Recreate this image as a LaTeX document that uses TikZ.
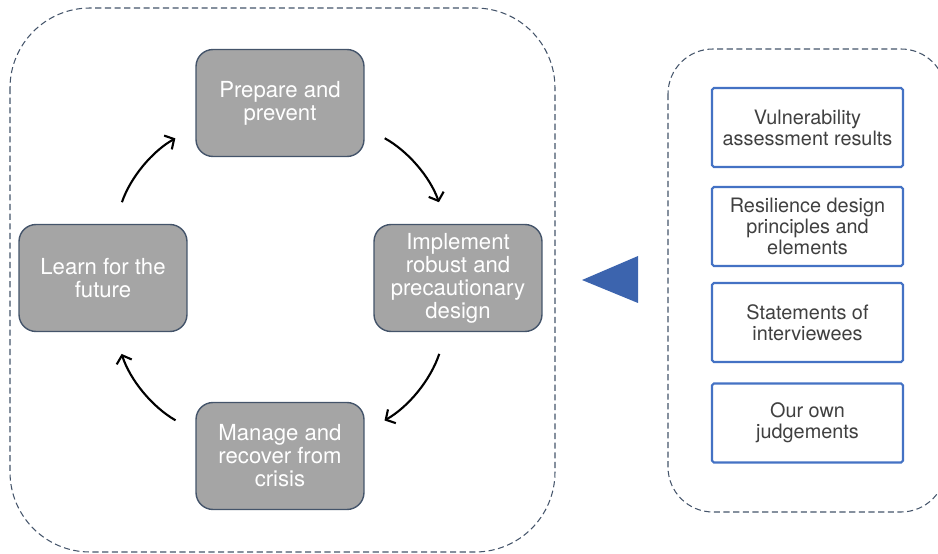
\documentclass[tikz,border=0pt]{standalone}
\usepackage{fontspec}
\setmainfont{TeX Gyre Heros}
\definecolor{slateedge}{HTML}{44546A}
\definecolor{phasegray}{HTML}{A5A5A5}
\definecolor{sourceblue}{HTML}{4472C4}
\definecolor{arrowblue}{HTML}{3C64AE}
\definecolor{darktext}{HTML}{404040}
\usetikzlibrary{arrows.meta}

\begin{document}
\begin{tikzpicture}[x=0.02cm,y=-0.02cm,
  phase/.style={draw=slateedge,line width=0.8pt,fill=phasegray,rounded corners=0.34cm,
    minimum width=3.36cm,minimum height=2.14cm,inner sep=0pt,align=center,
    text=white,font=\fontsize{12.6}{13.1}\selectfont},
  source/.style={draw=sourceblue,line width=1.2pt,fill=white,rounded corners=1pt,
    minimum width=3.82cm,minimum height=1.58cm,inner sep=0pt,align=center,
    text=darktext,font=\fontsize{11.3}{12}\selectfont},
  turn/.style={line width=1.2pt,-{Straight Barb[length=4pt,width=9pt]},
    shorten <=13pt,shorten >=13pt,bend left=21},
  dashframe/.style={draw=slateedge,line width=0.6pt,dash pattern=on 3.5pt off 2pt}]
\clip (0,0) rectangle (938,554);

% dashed frames
\draw[dashframe,rounded corners=1.6cm] (10,8) rectangle (555,552);
\draw[dashframe,rounded corners=0.9cm] (668,49) rectangle (946,512);

% the cycle
\coordinate (P) at (280,103);
\coordinate (I) at (458,278);
\coordinate (M) at (280,456);
\coordinate (L) at (103,278);
\node[phase] (prepare) at (P) {Prepare and\\prevent};
\node[phase] (implement) at (I) {Implement\\robust and\\precautionary\\design};
\node[phase] (manage) at (M) {Manage and\\recover from\\crisis};
\node[phase] (learn) at (L) {Learn for the\\future};
\draw[turn] (learn.78) to (prepare.196);
\draw[turn] (prepare.-16) to (implement.102);
\draw[turn] (implement.-102) to (manage.16);
\draw[turn] (manage.164) to (learn.-78);

% pointer
\fill[arrowblue] (582,280) -- (638,256) -- (638,303) -- cycle;

% sources
\node[source] (vuln) at (807.5,127.5) {Vulnerability\\assessment results};
\node[source] (principles) at (807.5,226.5) {Resilience design\\principles and\\elements};
\node[source] (interviews) at (807.5,322.5) {Statements of\\interviewees};
\node[source] (judgement) at (807.5,423) {Our own\\judgements};
\end{tikzpicture}
\end{document}
